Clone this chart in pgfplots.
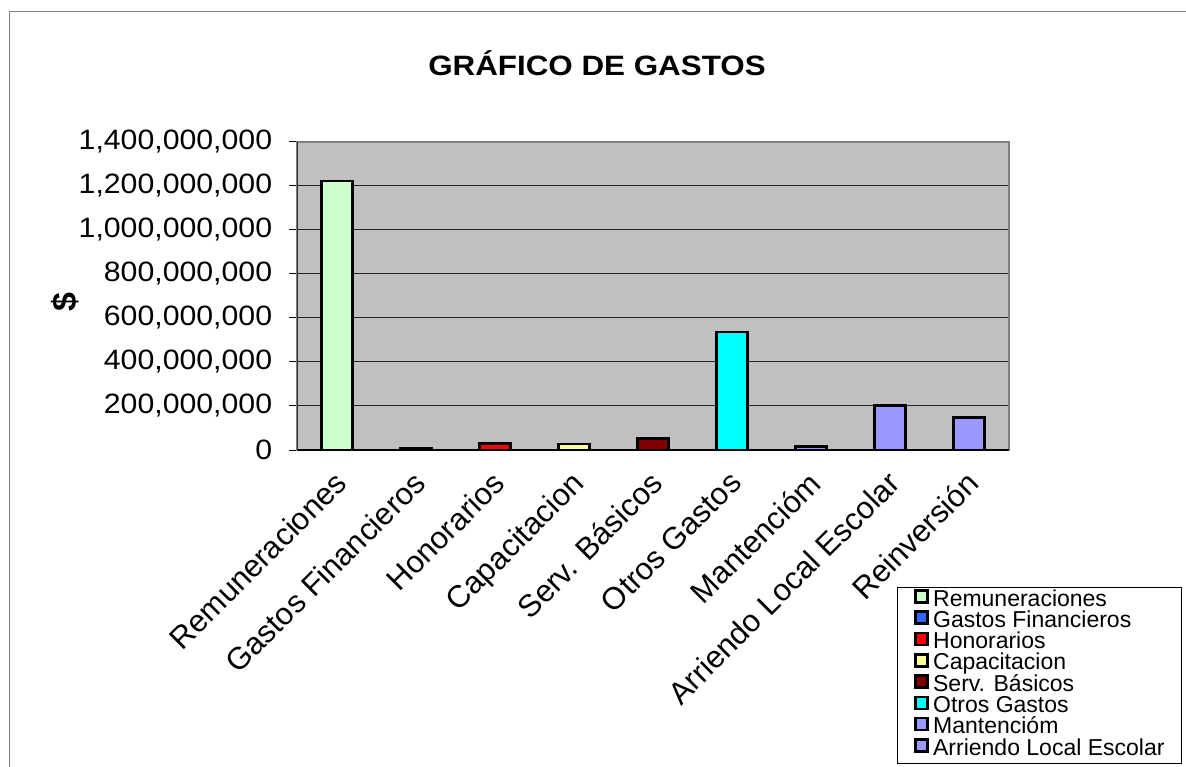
\documentclass[border=0pt]{standalone}
\usepackage{pgfplots}
\pgfplotsset{compat=1.18}
\usepackage{graphicx}
\usepackage{fontspec}
\setmainfont{Liberation Sans}

\definecolor{plotbg}{HTML}{C0C0C0}
\definecolor{frame}{HTML}{808080}
\definecolor{cRem}{HTML}{CCFFCC}
\definecolor{cGas}{HTML}{3366FF}
\definecolor{cHon}{HTML}{FF0000}
\definecolor{cCap}{HTML}{FFFF99}
\definecolor{cSer}{HTML}{800000}
\definecolor{cOtr}{HTML}{00FFFF}
\definecolor{cLil}{HTML}{9999FF}

\begin{document}
\begin{tikzpicture}
\useasboundingbox (0pt,0pt) rectangle (1186pt,-766pt);
\clip (0pt,0pt) rectangle (1186pt,-766pt);
\fill[white] (0pt,0pt) rectangle (1186pt,-766pt);
% outer chart frame (bottom and right run off the page)
\draw[frame, line width=1.2pt] (9.3pt,-800pt) -- (9.3pt,-11.5pt) -- (1200pt,-11.5pt);

\node[anchor=base, font=\fontsize{28}{28}\selectfont\bfseries]
  at (597pt,-75pt) {\scalebox{1.12}[1]{GRÁFICO DE GASTOS}};

\begin{axis}[
    at={(297.3pt,-450pt)}, anchor=south west,
    scale only axis,
    width=711.4pt, height=308.3pt,
    ymin=0, ymax=1400000000,
    ytick={0,200000000,400000000,600000000,800000000,1000000000,1200000000,1400000000},
    scaled y ticks=false,
    /pgf/number format/.cd, fixed, 1000 sep={,}, assume math mode=true,
    /pgfplots/.cd,
    yticklabel={\scalebox{1.08}[1]{\pgfmathprintnumber{\tick}}},
    yticklabel style={font=\fontsize{28}{28}\selectfont, anchor=east, inner sep=0pt, xshift=-17pt},
    xmin=-0.5, xmax=8.5,
    xtick={0,1,2,3,4,5,6,7,8},
    xticklabels={Remuneraciones, Gastos Financieros, Honorarios, Capacitacion, Serv. Básicos, Otros Gastos, Mantencióm, Arriendo Local Escolar, Reinversión},
    xticklabel style={font=\fontsize{31}{31}\selectfont, rotate=45, anchor=north east, inner sep=0pt, yshift=-5pt, xshift=-11pt},
    minor xtick={-0.5,0.5,...,8.5},
    xtick style={draw=none},
    minor x tick style={black, line width=1pt},
    ytick style={black, line width=1pt},
    tick align=outside,
    tick pos=left,
    major tick length=8pt,
    minor tick length=8pt,
    ymajorgrids=true,
    grid style={black!85, line width=1pt},
    axis background/.style={fill=plotbg},
    axis line style={frame, line width=2pt},
    ylabel={\$},
    ylabel style={at={(axis description cs:-0.3265,0.48)}, anchor=center, font=\fontsize{34}{34}\selectfont\bfseries},
    legend style={
        at={(axis description cs:0.8425,-0.4435)}, anchor=north west,
        draw=black, line width=1pt,
        font=\fontsize{23}{23}\selectfont,
        inner xsep=17pt, inner ysep=3pt,
        row sep=0pt,
        nodes={inner sep=0pt, text height=15.8pt, text depth=5.5pt},
        /tikz/every odd column/.append style={column sep=4pt},
    },
    legend cell align=left,
    legend image code/.code={%
        \path[use as bounding box, draw=none, fill=none] (0pt,0pt) rectangle (15pt,0.1pt);
        \draw[#1, draw=black, line width=2.6pt, overlay] (1.5pt,-1.5pt) rectangle (13.5pt,10.5pt);},
    every axis plot/.append style={ybar, bar width=31pt, bar shift=0pt, draw=black, line width=2.5pt},
]
\addplot[fill=cRem] coordinates {(0,1222000000)};
\addlegendentry{Remuneraciones}
\addplot[fill=cGas] coordinates {(1,10000000)};
\addlegendentry{Gastos Financieros}
\addplot[fill=cHon] coordinates {(2,30000000)};
\addlegendentry{Honorarios}
\addplot[fill=cCap] coordinates {(3,27000000)};
\addlegendentry{Capacitacion}
\addplot[fill=cSer] coordinates {(4,53000000)};
\addlegendentry{Serv. Básicos}
\addplot[fill=cOtr] coordinates {(5,535000000)};
\addlegendentry{Otros Gastos}
\addplot[fill=cLil] coordinates {(6,17000000)};
\addlegendentry{Mantencióm}
\addplot[fill=cLil] coordinates {(7,202000000)};
\addlegendentry{Arriendo Local Escolar}
\addplot[fill=cLil, forget plot] coordinates {(8,147000000)};
% left and bottom axis lines in black, as in the original
\draw[black, line width=1.5pt] (rel axis cs:0,1) -- (rel axis cs:0,0) -- (rel axis cs:1,0);
\end{axis}
\end{tikzpicture}
\end{document}
